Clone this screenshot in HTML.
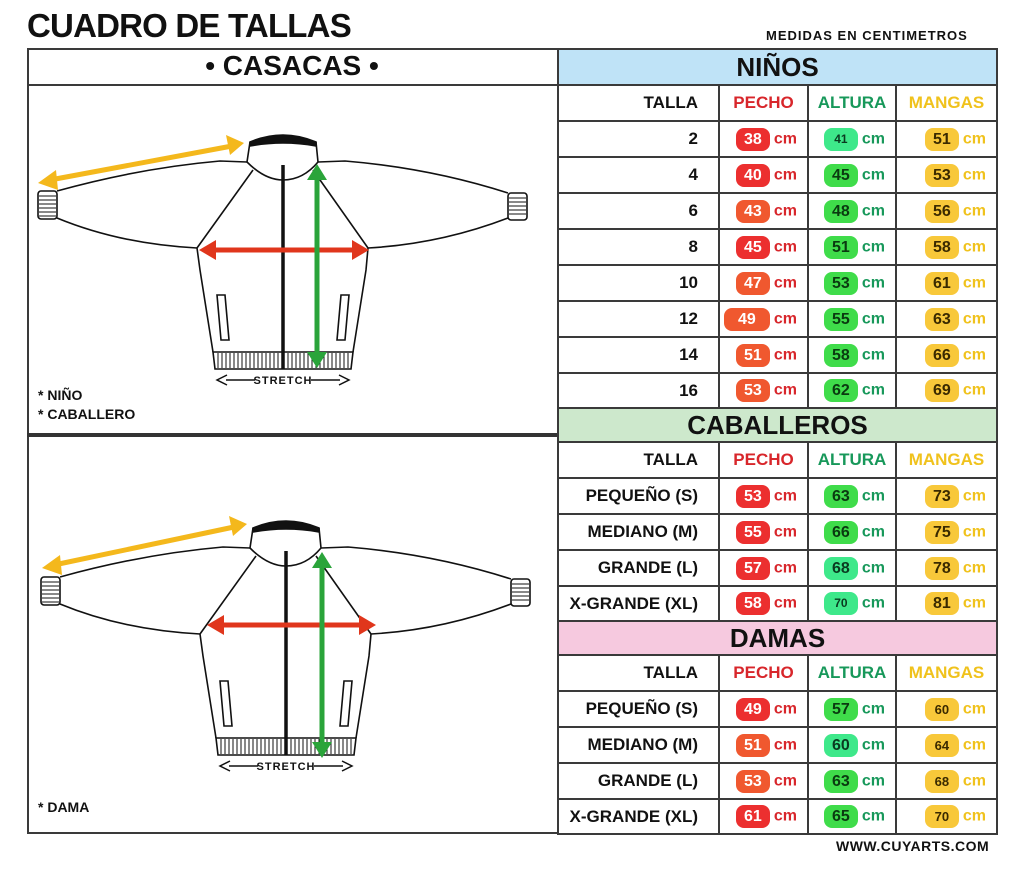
<!DOCTYPE html>
<html><head><meta charset="utf-8"><style>
body{margin:0;width:1024px;height:872px;background:#fff;position:relative;overflow:hidden;font-family:"Liberation Sans",sans-serif;}
.t{position:absolute;font-weight:bold;color:#111;}
table{position:absolute;left:557px;top:48px;border-collapse:collapse;table-layout:fixed;}
td{border:2px solid #3a3a3a;padding:0;font-weight:bold;font-size:16px;vertical-align:middle;}
td.l{text-align:right;padding-right:20px;color:#111;font-size:17px;}
td.h{text-align:center;font-size:26px;color:#111;}
td.v{text-align:right;padding-right:10px;white-space:nowrap;}
.b{display:inline-block;vertical-align:middle;min-width:30px;padding:0 2px;height:23px;line-height:23px;border-radius:8px;text-align:center;font-size:16px;margin-right:4px;}
.r{background:#ec2f2f;color:#fff}.o{background:#f0582f;color:#fff}
.g{background:#3fdc4a;color:#0a3a10}.gt{background:#3ee88a;color:#0a3a20}
.y{background:#f8c83a;color:#3a2a00}
.cr{color:#d8262b}.cg{color:#17985a}.cy{color:#f0c21c}
.hr{color:#d8262b;text-align:center;font-size:17px}.hg{color:#17985a;text-align:center;font-size:17px}.hy{color:#f0c21c;text-align:center;font-size:17px}
</style></head><body>
<div class="t" style="left:27px;top:7px;font-size:33px;letter-spacing:-0.8px;">CUADRO DE TALLAS</div>
<div class="t" style="left:766px;top:28px;font-size:13px;letter-spacing:1px;">MEDIDAS EN CENTIMETROS</div>
<div class="t" style="left:836px;top:838px;font-size:14px;letter-spacing:0.5px;">WWW.CUYARTS.COM</div>

<div style="position:absolute;left:27px;top:48px;width:528px;height:782px;border:2px solid #3a3a3a;border-right:none;"></div>
<div style="position:absolute;left:27px;top:84px;width:530px;height:2px;background:#3a3a3a;"></div>
<div class="t" style="left:27px;top:50px;width:530px;text-align:center;font-size:28px;">• CASACAS •</div>
<div style="position:absolute;left:27px;top:433px;width:530px;height:4px;background:#333;"></div>
<div class="t" style="left:38px;top:387px;font-size:14px;">* NIÑO</div>
<div class="t" style="left:38px;top:406px;font-size:14px;">* CABALLERO</div>
<div class="t" style="left:38px;top:799px;font-size:14px;">* DAMA</div>

<svg width="1024" height="872" style="position:absolute;left:0;top:0" xmlns="http://www.w3.org/2000/svg">
<defs>
<g id="jk" fill="none" stroke="#111" stroke-width="1.6">
<path d="M250,142 Q283,128 316,142 L316,146 Q283,140 250,146 Z" fill="#111"/>
<path d="M250,142 L247,162 Q265,180 283,180 Q303,180 318,162 L316,142"/>
<path d="M247,162 L220,161 Q140,168 57,191"/>
<path d="M57,218 Q120,244 197,248"/>
<rect x="38" y="191" width="19" height="28" rx="3"/>
<path d="M39,196 H56 M39,200 H56 M39,204 H56 M39,208 H56 M39,212 H56 M39,216 H56" stroke-width="1"/>
<path d="M253,170 L197,248 L200,270 L213,352"/>
<path d="M313,170 L368,248 L366,270 L353,352"/>
<path d="M318,162 L345,161 Q430,168 508,193"/>
<path d="M508,218 Q440,244 368,248"/>
<rect x="508" y="193" width="19" height="27" rx="3"/>
<path d="M509,198 H526 M509,202 H526 M509,206 H526 M509,210 H526 M509,214 H526" stroke-width="1"/>
<path d="M213,352 H353 L351,369 H215 Z"/>
<path d="M218,353V368M222,353V368M226,353V368M230,353V368M234,353V368M238,353V368M242,353V368M246,353V368M250,353V368M254,353V368M258,353V368M262,353V368M266,353V368M270,353V368M274,353V368M278,353V368M288,353V368M292,353V368M296,353V368M300,353V368M304,353V368M308,353V368M312,353V368M316,353V368M320,353V368M324,353V368M328,353V368M332,353V368M336,353V368M340,353V368M344,353V368M348,353V368" stroke-width="1"/>
<line x1="283" y1="165" x2="283" y2="369" stroke-width="3.5"/>
<polygon points="217,295 225,295 229,340 221,340"/>
<polygon points="341,295 349,295 345,340 337,340"/>
<line x1="226" y1="380" x2="340" y2="380" stroke-width="1.5"/>
<path d="M227,375 L217,380 L227,385 M339,375 L349,380 L339,385" stroke-width="1.5"/>
<rect x="255" y="372" width="56" height="14" fill="#fff" stroke="none"/>
<text x="283" y="384" text-anchor="middle" font-family="Liberation Sans" font-weight="bold" font-size="11" fill="#111" stroke="none" letter-spacing="1">STRETCH</text>
</g>
</defs>
<use href="#jk"/>
<use href="#jk" transform="translate(3,386)"/>
<g stroke-width="5">
<line x1="50" y1="180" x2="232" y2="146" stroke="#f4b81c"/>
<polygon points="38,183 56,170 58,190" fill="#f4b81c"/>
<polygon points="244,143 226,135 230,155" fill="#f4b81c"/>
<line x1="212" y1="250" x2="356" y2="250" stroke="#e0361c"/>
<polygon points="199,250 216,240 216,260" fill="#e0361c"/>
<polygon points="369,250 352,240 352,260" fill="#e0361c"/>
<line x1="317" y1="176" x2="317" y2="356" stroke="#2aa43a"/>
<polygon points="317,164 307,180 327,180" fill="#2aa43a"/>
<polygon points="317,368 307,352 327,352" fill="#2aa43a"/>
<line x1="54" y1="565" x2="234" y2="527" stroke="#f4b81c"/>
<polygon points="42,568 60,555 62,575" fill="#f4b81c"/>
<polygon points="247,524 229,516 233,536" fill="#f4b81c"/>
<line x1="220" y1="625" x2="362" y2="625" stroke="#e0361c"/>
<polygon points="207,625 224,615 224,635" fill="#e0361c"/>
<polygon points="376,625 359,615 359,635" fill="#e0361c"/>
<line x1="322" y1="564" x2="322" y2="746" stroke="#2aa43a"/>
<polygon points="322,552 312,568 332,568" fill="#2aa43a"/>
<polygon points="322,758 312,742 332,742" fill="#2aa43a"/>
</g>
</svg>

<table>
<colgroup><col style="width:161px"><col style="width:89px"><col style="width:88px"><col style="width:101px"></colgroup>
<tr style="height:36px"><td colspan="4" class="h" style="background:#bfe3f7">NIÑOS</td></tr>
<tr style="height:36px"><td class="l">TALLA</td><td class="hr">PECHO</td><td class="hg">ALTURA</td><td class="hy">MANGAS</td></tr>
<tr style="height:36px"><td class="l">2</td><td class="v cr"><span class="b r">38</span>cm</td><td class="v cg"><span class="b gt" style="font-size:12px">41</span>cm</td><td class="v cy"><span class="b y">51</span>cm</td></tr>
<tr style="height:36px"><td class="l">4</td><td class="v cr"><span class="b r">40</span>cm</td><td class="v cg"><span class="b g">45</span>cm</td><td class="v cy"><span class="b y">53</span>cm</td></tr>
<tr style="height:36px"><td class="l">6</td><td class="v cr"><span class="b o">43</span>cm</td><td class="v cg"><span class="b g">48</span>cm</td><td class="v cy"><span class="b y">56</span>cm</td></tr>
<tr style="height:36px"><td class="l">8</td><td class="v cr"><span class="b r">45</span>cm</td><td class="v cg"><span class="b g">51</span>cm</td><td class="v cy"><span class="b y">58</span>cm</td></tr>
<tr style="height:36px"><td class="l">10</td><td class="v cr"><span class="b o">47</span>cm</td><td class="v cg"><span class="b g">53</span>cm</td><td class="v cy"><span class="b y">61</span>cm</td></tr>
<tr style="height:36px"><td class="l">12</td><td class="v cr"><span class="b o" style="min-width:42px">49</span>cm</td><td class="v cg"><span class="b g">55</span>cm</td><td class="v cy"><span class="b y">63</span>cm</td></tr>
<tr style="height:36px"><td class="l">14</td><td class="v cr"><span class="b o">51</span>cm</td><td class="v cg"><span class="b g">58</span>cm</td><td class="v cy"><span class="b y">66</span>cm</td></tr>
<tr style="height:35px"><td class="l">16</td><td class="v cr"><span class="b o">53</span>cm</td><td class="v cg"><span class="b g">62</span>cm</td><td class="v cy"><span class="b y">69</span>cm</td></tr>
<tr style="height:34px"><td colspan="4" class="h" style="background:#cde8cc">CABALLEROS</td></tr>
<tr style="height:36px"><td class="l">TALLA</td><td class="hr">PECHO</td><td class="hg">ALTURA</td><td class="hy">MANGAS</td></tr>
<tr style="height:36px"><td class="l">PEQUEÑO (S)</td><td class="v cr"><span class="b r">53</span>cm</td><td class="v cg"><span class="b g">63</span>cm</td><td class="v cy"><span class="b y">73</span>cm</td></tr>
<tr style="height:36px"><td class="l">MEDIANO (M)</td><td class="v cr"><span class="b r">55</span>cm</td><td class="v cg"><span class="b g">66</span>cm</td><td class="v cy"><span class="b y">75</span>cm</td></tr>
<tr style="height:36px"><td class="l">GRANDE (L)</td><td class="v cr"><span class="b r">57</span>cm</td><td class="v cg"><span class="b gt">68</span>cm</td><td class="v cy"><span class="b y">78</span>cm</td></tr>
<tr style="height:35px"><td class="l">X-GRANDE (XL)</td><td class="v cr"><span class="b r">58</span>cm</td><td class="v cg"><span class="b gt" style="font-size:12px">70</span>cm</td><td class="v cy"><span class="b y">81</span>cm</td></tr>
<tr style="height:34px"><td colspan="4" class="h" style="background:#f6c9df">DAMAS</td></tr>
<tr style="height:36px"><td class="l">TALLA</td><td class="hr">PECHO</td><td class="hg">ALTURA</td><td class="hy">MANGAS</td></tr>
<tr style="height:36px"><td class="l">PEQUEÑO (S)</td><td class="v cr"><span class="b r">49</span>cm</td><td class="v cg"><span class="b g">57</span>cm</td><td class="v cy"><span class="b y" style="font-size:13px">60</span>cm</td></tr>
<tr style="height:36px"><td class="l">MEDIANO (M)</td><td class="v cr"><span class="b o">51</span>cm</td><td class="v cg"><span class="b gt">60</span>cm</td><td class="v cy"><span class="b y" style="font-size:13px">64</span>cm</td></tr>
<tr style="height:36px"><td class="l">GRANDE (L)</td><td class="v cr"><span class="b o">53</span>cm</td><td class="v cg"><span class="b g">63</span>cm</td><td class="v cy"><span class="b y" style="font-size:13px">68</span>cm</td></tr>
<tr style="height:35px"><td class="l">X-GRANDE (XL)</td><td class="v cr"><span class="b r">61</span>cm</td><td class="v cg"><span class="b g">65</span>cm</td><td class="v cy"><span class="b y" style="font-size:13px">70</span>cm</td></tr>
</table>
</body></html>
